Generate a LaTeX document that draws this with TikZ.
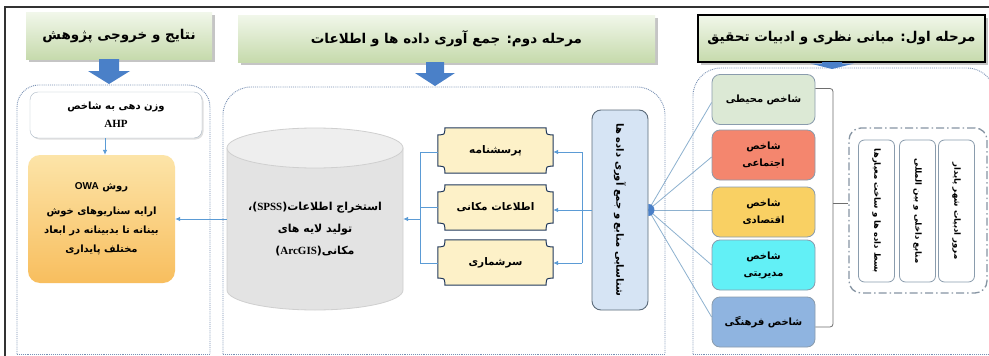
\documentclass[tikz,border=0pt]{standalone}
\usepackage{fontspec}
\newfontfamily\fa[Script=Arabic]{DejaVu Sans}
\newfontfamily\lsans{Liberation Sans}
\newfontfamily\lserif{Liberation Serif}
\TeXXeTstate=1
\usetikzlibrary{shadows,backgrounds,calc,arrows.meta}
\pgfdeclarelayer{bottom}
\pgfsetlayers{bottom,background,main}
\newcommand\rtxt[1]{\beginR #1\endR}
\newcommand\blockdown[6]{\fill[arrowc] (#1-#5,#2) -- (#1+#5,#2) -- (#1+#5,#3) -- (#1+#6,#3) -- (#1,#4) -- (#1-#6,#3) -- (#1-#5,#3) -- cycle;}
\definecolor{hdrtop}{HTML}{F1F7EA}
\definecolor{hdrbot}{HTML}{C6DAAC}
\definecolor{arrowc}{HTML}{4A80C8}
\definecolor{panelc}{HTML}{7890B4}
\definecolor{connc}{HTML}{5B9BD5}
\definecolor{fanc}{HTML}{8DB1CF}
\definecolor{brkc}{HTML}{6E6E6E}
\definecolor{plaquef}{HTML}{FDF1C8}
\definecolor{plaqued}{HTML}{22395C}
\definecolor{srcf}{HTML}{D6E4F4}
\definecolor{srcd}{HTML}{5C6B7A}
\definecolor{cylf}{HTML}{E3E3E3}
\definecolor{cylt}{HTML}{EEEEEE}
\definecolor{cyld}{HTML}{CFCFCF}
\definecolor{owatop}{HTML}{FCE4A8}
\definecolor{owabot}{HTML}{F8BE5E}
\definecolor{boxd}{HTML}{8A9CAD}
\definecolor{cgreen}{HTML}{DCE9D5}
\definecolor{cred}{HTML}{F4866E}
\definecolor{cgold}{HTML}{F9D063}
\definecolor{ccyan}{HTML}{62F0F6}
\definecolor{cblue}{HTML}{8FB4E0}
\definecolor{dashc}{HTML}{8795A3}
\definecolor{framec}{HTML}{333333}
\begin{document}
\begin{tikzpicture}[x=1pt,y=-1pt,
  hdr/.style={minimum height=47, inner sep=2pt, top color=hdrtop, bottom color=hdrbot,
    drop shadow={opacity=0.45,shadow xshift=2.5pt,shadow yshift=-2.5pt},
    font={\fa\bfseries\fontsize{13.5}{15}\selectfont}},
  panel/.style={draw=panelc, densely dotted, line width=0.9pt},
  conn/.style={draw=connc, line width=0.8pt},
  tip/.style={-{Latex[length=5pt,width=4.5pt]}},
  fan/.style={draw=fanc, line width=0.8pt},
  brk/.style={draw=brkc, line width=0.8pt},
  idx/.style={draw=boxd, line width=0.8pt, rounded corners=8, minimum width=103, minimum height=50,
    align=center, font={\fa\bfseries\fontsize{10}{17}\selectfont}},
  vbox/.style={draw=boxd, fill=white, line width=0.8pt, rounded corners=6, minimum width=36, minimum height=142,
    inner sep=0pt, font={\fa\bfseries\fontsize{8.5}{10}\selectfont}},
  plaquebox/.style={minimum width=115, minimum height=45, inner sep=0pt,
    font={\fa\bfseries\fontsize{10.5}{12}\selectfont}},
  plaque/.style={fill=plaquef, draw=plaqued, line width=1pt}
]
\begin{pgfonlayer}{bottom}
\fill[white] (0,0) rectangle (989,356);
\end{pgfonlayer}
\useasboundingbox (0,0) rectangle (989,356);
% outer frame
\draw[framec, line width=2pt] (5,356) -- (5,7) -- (989,7);

% panels
\draw[panel, rounded corners=22] (17,354) -- (17,85) -- (210,85) -- (210,354);
\draw[panel] (17,354) -- (210,354);
\draw[panel, rounded corners=28] (223,354) -- (223,87) -- (665,87) -- (665,354);
\draw[panel] (223,354) -- (665,354);
\draw[panel, rounded corners=28] (693,354) -- (693,68) -- (995,68) -- (995,354);
\draw[panel] (693,354) -- (989,354);

% headers
\node[hdr, minimum width=186] (h1) at (119,36) {\rtxt{نتایج و خروجی پژوهش}};
\node[hdr, minimum width=417] (h2) at (446.5,38.5) {\rtxt{مرحله دوم: جمع آوری داده ها و اطلاعات}};
\node[hdr, minimum width=287, draw=black, line width=1.3pt] (h3) at (841.5,38.5) {\rtxt{مرحله اول: مبانی نظری و ادبیات تحقیق}};

% block arrows
\blockdown{109}{59}{71}{84}{10}{21}
\blockdown{435}{62}{73}{86}{9}{20}
\blockdown{832}{62}{63.5}{69}{10}{22}

% left panel
\node[draw=boxd!70, fill=white, rounded corners=8, minimum width=172, minimum height=46, align=center,
  drop shadow={opacity=0.25,shadow xshift=1.5pt,shadow yshift=-1.5pt},
  font={\fa\bfseries\fontsize{10}{18}\selectfont}] (ahp) at (116,115)
  {\rtxt{وزن دهی به شاخص}\\{\lserif\bfseries\fontsize{11}{12}\selectfont AHP}};
\node[rounded corners=12, top color=owatop, bottom color=owabot, minimum width=147, minimum height=128,
  align=center, font={\fa\bfseries\fontsize{10}{19}\selectfont}] (owa) at (101.5,219)
  {\rtxt{روش \beginL{\lsans\bfseries OWA}\endL}\\[6pt]\rtxt{ارایه سناریوهای خوش}\\\rtxt{بینانه تا بدبینانه در ابعاد}\\\rtxt{مختلف پایداری}};
\draw[conn, tip] (ahp.south -| 105,0) -- (owa.north -| 105,0);

% middle panel
\node[minimum width=176, minimum height=162, align=center,
  font={\fa\bfseries\fontsize{11}{22}\selectfont}] (cyl) at (315,229)
  {\rtxt{استخراج اطلاعات({\lserif\bfseries SPSS})،}\\\rtxt{تولید لایه های}\\\rtxt{مکانی({\lserif\bfseries ArcGIS})}};
\node[plaquebox] (y1) at (495.5,150.5) {\rtxt{پرسشنامه}};
\node[plaquebox] (y2) at (495.5,207.5) {\rtxt{اطلاعات مکانی}};
\node[plaquebox] (y3) at (495.5,262.5) {\rtxt{سرشماری}};
\node[draw=srcd, fill=srcf, line width=0.9pt, rounded corners=9, minimum width=56, minimum height=200, inner sep=0pt,
  font={\fa\bfseries\fontsize{10}{12}\selectfont}] (src) at (620,210)
  {\rotatebox{-90}{\rtxt{شناسایی منابع و جمع آوری داده ها}}};

\begin{pgfonlayer}{background}
  % cylinder
  \filldraw[fill=cylf, draw=cyld, line width=0.8pt] (227,148) -- (227,290)
    arc[start angle=180, end angle=0, x radius=88, y radius=20] -- (403,148) -- cycle;
  \filldraw[fill=cylt, draw=cyld, line width=0.8pt] (315,148) ellipse [x radius=88, y radius=20];
  % plaques
  \foreach \n in {y1,y2,y3}{
    \filldraw[plaque] ([xshift=7pt]\n.north west) -- ([xshift=-7pt]\n.north east)
      .. controls ([xshift=-7pt,yshift=-7pt]\n.north east) .. ([yshift=-7pt]\n.north east)
      -- ([yshift=7pt]\n.south east)
      .. controls ([xshift=-7pt,yshift=7pt]\n.south east) .. ([xshift=-7pt]\n.south east)
      -- ([xshift=7pt]\n.south west)
      .. controls ([xshift=7pt,yshift=7pt]\n.south west) .. ([yshift=7pt]\n.south west)
      -- ([yshift=-7pt]\n.north west)
      .. controls ([xshift=7pt,yshift=-7pt]\n.north west) .. ([xshift=7pt]\n.north west) -- cycle;
  }
\end{pgfonlayer}

% middle connectors
\coordinate (rt) at (582,152);
\coordinate (rb) at (582,263);
\coordinate (lt) at (420,152);
\coordinate (lb) at (420,263);
\coordinate (lm) at (420,219);
\draw[conn] (rt) -- (rb);
\draw[conn, tip] (rt) -- (rt -| y1.east);
\draw[conn, tip] (src.west) -- (src.west -| y2.east);
\draw[conn, tip] (rb) -- (rb -| y3.east);
\draw[conn] (y1.west |- lt) -- (lt) -- (lb) -- (y3.west |- lb);
\draw[conn] (y2.west) -- (y2.west -| lt);
\draw[conn, tip] (lm) -- (lm -| cyl.east);
\draw[conn, tip] (cyl.west |- lm) -- (owa.east |- lm);

% right panel
\node[idx, fill=cgreen] (b1) at (763.5,99.5) {\rtxt{شاخص محیطی}};
\node[idx, fill=cred] (b2) at (763.5,155) {\rtxt{شاخص}\\\rtxt{اجتماعی}};
\node[idx, fill=cgold] (b3) at (763.5,212) {\rtxt{شاخص}\\\rtxt{اقتصادی}};
\node[idx, fill=ccyan] (b4) at (763.5,265) {\rtxt{شاخص}\\\rtxt{مدیریتی}};
\node[idx, fill=cblue] (b5) at (763.5,322) {\rtxt{شاخص فرهنگی}};

\node[draw=dashc, line width=1.3pt, dash pattern=on 8pt off 3pt on 1.5pt off 3pt, rounded corners=12,
  minimum width=138, minimum height=165] (dbox) at (918,210.5) {};
\node[vbox] (v1) at (876.5,211) {\rotatebox{-90}{\rtxt{بسط داده ها و ساخت معیارها}}};
\node[vbox] (v2) at (917.5,211) {\rotatebox{-90}{\rtxt{منابع داخلی و بین المللی}}};
\node[vbox] (v3) at (956.5,211) {\rotatebox{-90}{\rtxt{مرور ادبیات شهر پایدار}}};

\coordinate (brk) at (833,203);
\draw[brk, rounded corners=3] ([yshift=11pt]b1.east) -| (brk) |- ([yshift=-5pt]b5.east);
\draw[brk] (brk) -- (dbox.west |- brk);

% fan from source
\begin{pgfonlayer}{background}
\draw[fan] (src.east) -- ([yshift=-3pt]b1.west);
\draw[fan] (src.east) -- ([yshift=-2pt]b2.west);
\draw[fan] (src.east) -- (src.east -| b3.west);
\draw[fan] (src.east) -- (b4.west);
\draw[fan] (src.east) -- ([yshift=5pt]b5.west);
\end{pgfonlayer}
\fill[arrowc] (src.east) ++(0,-6) arc[start angle=-90, end angle=90, radius=6] -- cycle;
\end{tikzpicture}
\end{document}
